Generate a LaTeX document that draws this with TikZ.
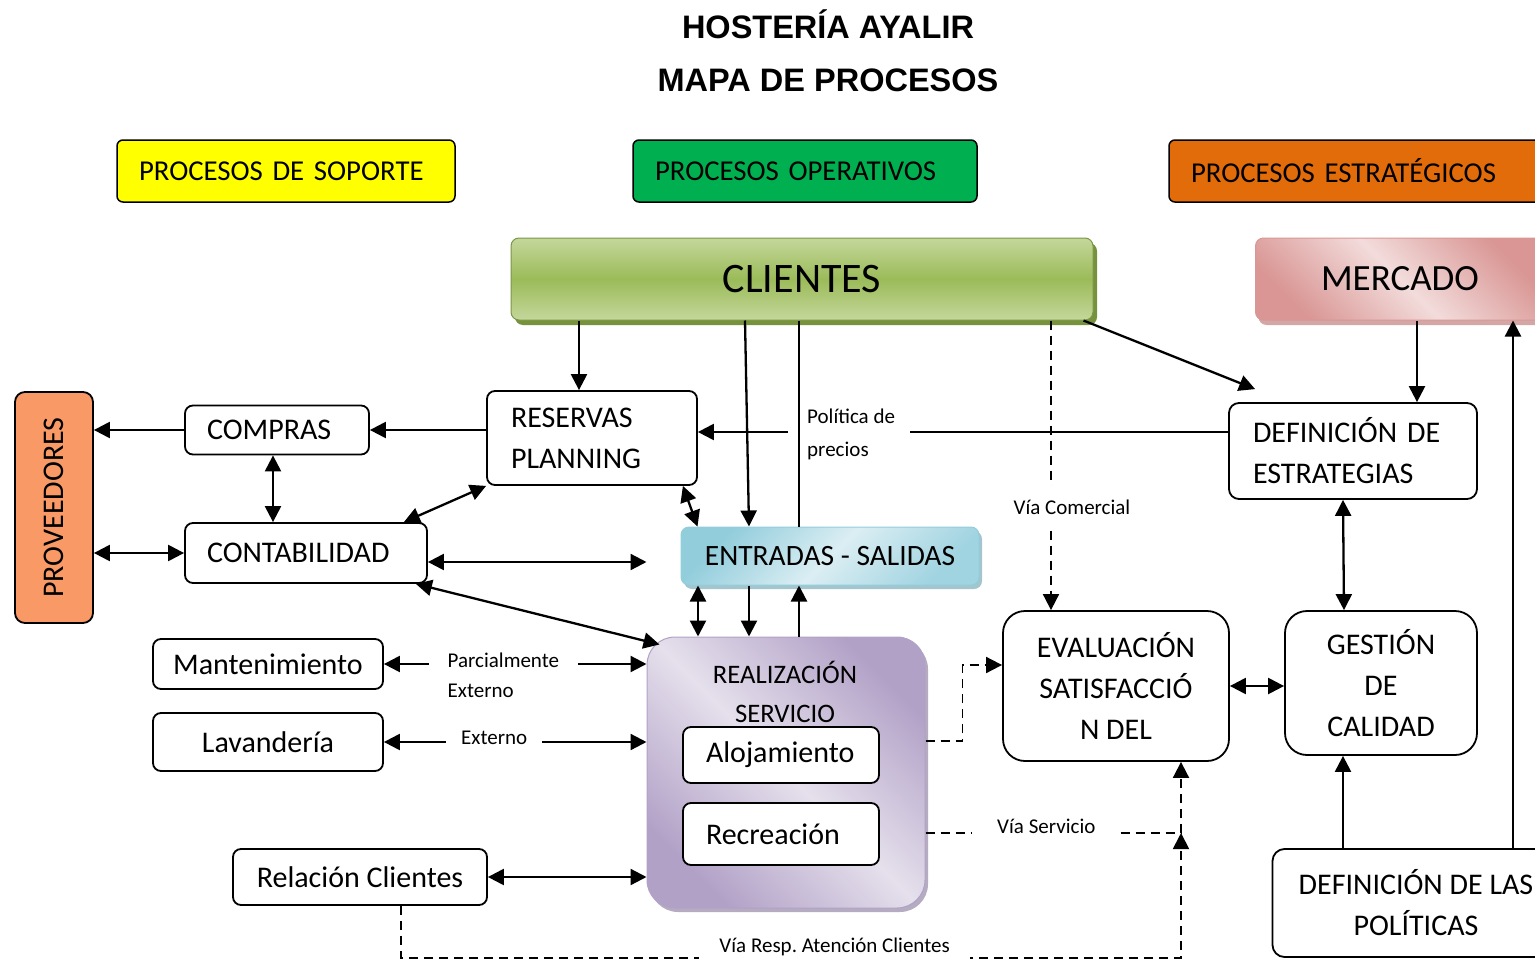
\documentclass[tikz,border=0pt]{standalone}
\usepackage{fontspec}
\setmainfont{Carlito}
\newfontfamily\titlefont{Liberation Sans}
\usetikzlibrary{arrows.meta,shadows}
\frenchspacing

\definecolor{soporteYellow}{HTML}{FFFF00}
\definecolor{operGreen}{HTML}{00B050}
\definecolor{estrOrange}{HTML}{E36C0A}
\definecolor{provOrange}{HTML}{F99A66}
\definecolor{cliLight}{HTML}{C4D79B}
\definecolor{cliMid}{HTML}{9BBB59}
\definecolor{cliDark}{HTML}{76923C}
\definecolor{merDark}{HTML}{D99694}
\definecolor{merLight}{HTML}{F2DCDB}
\definecolor{entDark}{HTML}{92CDDC}
\definecolor{entLight}{HTML}{DBEEF3}
\definecolor{realDark}{HTML}{B2A1C7}
\definecolor{realLight}{HTML}{E5E0EC}

\begin{document}
\begin{tikzpicture}[x=1pt, y=-1pt,
	>={Triangle[length=16pt, width=16pt]},
	procBox/.style={rectangle, rounded corners=8pt, draw=black, line width=1.8pt, fill=white, font=\fontsize{30}{41}\selectfont},
	headBox/.style={rectangle, rounded corners=6pt, draw=black, line width=1.5pt, minimum height=62pt, inner xsep=22pt, align=left, font=\fontsize{28.8}{32}\selectfont},
	flowEdge/.style={->, line width=2.3pt},
	bothEdge/.style={<->, line width=2.3pt},
	viaLine/.style={dash pattern=on 9pt off 6pt, line width=1.8pt},
	viaEdge/.style={viaLine, ->},
	viaLabel/.style={fill=white, font=\fontsize{21}{30}\selectfont},
	]
	\useasboundingbox (0,0) rectangle (1535,961);

	% title
	\node[font=\titlefont\bfseries\fontsize{32.5}{36}\selectfont] (titleTop) at (828,24) {HOSTERÍA AYALIR};
	\node[font=\titlefont\bfseries\fontsize{32.5}{36}\selectfont] (titleBottom) at (828,80) {MAPA DE PROCESOS};

	% process groups
	\node[headBox, fill=soporteYellow, text width=294pt] (soporteBox) at (286,171) {PROCESOS DE SOPORTE};
	\node[headBox, fill=operGreen, text width=300pt] (operBox) at (805,171) {PROCESOS OPERATIVOS};
	\node[headBox, fill=estrOrange, text width=346pt] (estrBox) at (1364,171) {PROCESOS ESTRATÉGICOS};

	% customers and market
	\node[rectangle, rounded corners=8pt, minimum width=582pt, minimum height=82pt, top color=cliLight, bottom color=cliLight, middle color=cliMid, draw=cliMid!80!black, line width=1pt, drop shadow={shadow xshift=4pt, shadow yshift=-5pt, fill=cliDark, opacity=1}, font=\fontsize{42}{48}\selectfont](clientesBox) at (802,279){CLIENTES};
	\node[rectangle, rounded corners=8pt, minimum width=289pt, minimum height=82pt, left color=merDark, right color=merDark, middle color=merLight, shading angle=135, draw=merDark, line width=1pt, drop shadow={shadow xshift=3pt, shadow yshift=-5pt, fill=merDark!80!gray, opacity=0.8}, font=\fontsize{37}{44}\selectfont](mercadoBox) at (1400,279){MERCADO};

	% suppliers and support processes
	\node[rectangle, rounded corners=10pt, draw=black, line width=1.8pt, fill=provOrange, minimum width=78pt, minimum height=231pt, font=\fontsize{30}{32}\selectfont](provBox) at (54,507.5){\rotatebox{90}{PROVEEDORES}};
	\node[procBox, minimum width=184pt, minimum height=49pt, text width=140pt, align=left](comprasBox) at (277,430){COMPRAS};
	\node[procBox, minimum width=242pt, minimum height=60pt, text width=198pt, align=left](contBox) at (306,553){CONTABILIDAD};
	\node[procBox, minimum width=230pt, minimum height=50pt](mantBox) at (268,664){Mantenimiento};
	\node[procBox, minimum width=230pt, minimum height=58pt](lavBox) at (268,742){Lavandería};
	\node[procBox, minimum width=254pt, minimum height=56pt](relBox) at (360,877){Relación Clientes};

	% operational processes
	\node[procBox, minimum width=210pt, minimum height=94pt, text width=162pt, align=left](reservasBox) at (592,438){RESERVAS\\PLANNING};
	\node[rectangle, rounded corners=8pt, minimum width=298pt, minimum height=58pt, left color=entDark, right color=entDark!80!entLight, middle color=entLight, shading angle=45, draw=entDark, line width=1pt, drop shadow={shadow xshift=3pt, shadow yshift=-4pt, fill=entDark!70!gray, opacity=0.8}, font=\fontsize{29.5}{32}\selectfont](entradasBox) at (830,556){ENTRADAS - SALIDAS};
	\node[rectangle, rounded corners=28pt, minimum width=278pt, minimum height=271pt, left color=realDark, right color=realDark, middle color=realLight, shading angle=135, draw=realDark, line width=1pt, drop shadow={shadow xshift=3pt, shadow yshift=-4pt, fill=realDark!70!gray, opacity=0.8}](realBox) at (786,772.5){};
	\node[font=\fontsize{26.7}{39}\selectfont, align=center](realText) at (785,692){REALIZACIÓN\\SERVICIO};
	\node[procBox, minimum width=196pt, minimum height=56pt, text width=150pt, align=left](alojBox) at (781,755){Alojamiento};
	\node[procBox, minimum width=196pt, minimum height=62pt, text width=150pt, align=left](recBox) at (781,834){Recreación};

	% strategic processes
	\node[procBox, rounded corners=10pt, minimum width=248pt, minimum height=96pt, text width=200pt, align=left](defEstrBox) at (1353,451){DEFINICIÓN DE\\ESTRATEGIAS};
	\node[procBox, rounded corners=22pt, minimum width=226pt, minimum height=150pt, align=center](evalBox) at (1116,686){EVALUACIÓN\\SATISFACCIÓ\\N DEL};
	\node[procBox, rounded corners=22pt, minimum width=192pt, minimum height=144pt, align=center](gestionBox) at (1381,683){GESTIÓN\\DE\\CALIDAD};
	\node[procBox, rounded corners=12pt, minimum width=287pt, minimum height=108pt, align=center](defPolBox) at (1416,903){DEFINICIÓN DE LAS\\POLÍTICAS};

	% draw customer edges
	\draw[flowEdge] ([xshift=-223pt]clientesBox.south) -- ([xshift=-13pt]reservasBox.north);
	\draw[flowEdge] ([xshift=-57pt]clientesBox.south) -- ([xshift=-81pt]entradasBox.north);
	\draw[line width=1.4pt] ([xshift=-3pt]clientesBox.south) -- ([xshift=-31pt]entradasBox.north);
	\draw[flowEdge] ([xshift=-10pt]clientesBox.south east) -- ([xshift=27pt, yshift=13pt]defEstrBox.north west);
	\draw[viaEdge] ([xshift=249pt]clientesBox.south) -- node[viaLabel, pos=0.646, xshift=21pt, inner ysep=14pt]{Vía Comercial} ([xshift=-65pt]evalBox.north);

	% draw price policy edge
	\coordinate (polRight) at (910,432);
	\coordinate (polLeft) at (788,432);
	\draw[line width=1.4pt] ([yshift=19pt]defEstrBox.west) -- (polRight);
	\draw[flowEdge] (polLeft) -- ([yshift=6pt]reservasBox.east);
	\node[font=\fontsize{21}{33}\selectfont, align=left, anchor=west, inner sep=0pt](politicaLbl) at (807,434){Política de\\precios};

	% draw strategic edges
	\draw[flowEdge] ([xshift=17pt]mercadoBox.south) -- ([xshift=64pt]defEstrBox.north);
	\draw[flowEdge] ([xshift=97pt]defPolBox.north) -- ([xshift=113pt]mercadoBox.south);
	\draw[bothEdge] ([xshift=-10pt]defEstrBox.south) -- ([xshift=-37pt]gestionBox.north);
	\draw[bothEdge] (evalBox.east) -- (evalBox.east -| gestionBox.west);
	\draw[flowEdge] ([xshift=-73pt]defPolBox.north) -- ([xshift=-38pt]gestionBox.south);

	% draw support edges
	\draw[flowEdge] (comprasBox.west) -- (comprasBox.west -| provBox.east);
	\draw[flowEdge] (reservasBox.west |- comprasBox.east) -- (comprasBox.east);
	\draw[bothEdge] ([xshift=-4pt]comprasBox.south) -- ([xshift=-33pt]contBox.north);
	\draw[bothEdge] (provBox.east |- contBox.west) -- (contBox.west);
	\draw[bothEdge] ([xshift=-24pt]contBox.north east) -- (reservasBox.south west);
	\draw[bothEdge] ([yshift=-9pt]contBox.east) -- ([yshift=210.5pt]realBox.west);
	\draw[bothEdge] ([xshift=-12pt]contBox.south east) -- ([xshift=13pt, yshift=-8pt]realBox.north west);

	% draw operational edges
	\draw[bothEdge] ([xshift=-15pt]reservasBox.south east) -- ([xshift=17pt]entradasBox.north west);
	\draw[bothEdge] ([xshift=-132pt]entradasBox.south) -- ([xshift=-88pt]realBox.north);
	\draw[flowEdge] ([xshift=-81pt]entradasBox.south) -- ([xshift=-37pt]realBox.north);
	\draw[flowEdge] ([xshift=13pt]realBox.north) -- ([xshift=-31pt]entradasBox.south);

	% draw service edges
	\draw[bothEdge] (mantBox.east) -- node[viaLabel, pos=0.455, yshift=-11pt, inner xsep=19pt, align=left]{Parcialmente\\Externo} (mantBox.east -| realBox.west);
	\draw[bothEdge] (lavBox.east) -- node[viaLabel, pos=0.42, yshift=4pt, inner xsep=15pt]{Externo} (lavBox.east -| realBox.west);
	\draw[bothEdge] (relBox.east) -- (relBox.east -| realBox.west);

	% draw feedback edges
	\coordinate (servCorner) at (1181,833);
	\draw[viaEdge] ([yshift=31.5pt]realBox.east) -- ++(37,0) |- ([yshift=21pt]evalBox.west);
	\draw[viaLine] ([yshift=-60.5pt]realBox.east) -- node[viaLabel, pos=0.473, yshift=7pt, inner xsep=25pt]{Vía Servicio} (servCorner);
	\draw[viaEdge] (servCorner) -- (servCorner |- evalBox.south);
	\draw[viaEdge] ([xshift=41pt]relBox.south) -- ++(0,52) -| node[viaLabel, pos=0.278, yshift=11pt, inner xsep=20pt]{Vía Resp. Atención Clientes} (servCorner);
\end{tikzpicture}
\end{document}
